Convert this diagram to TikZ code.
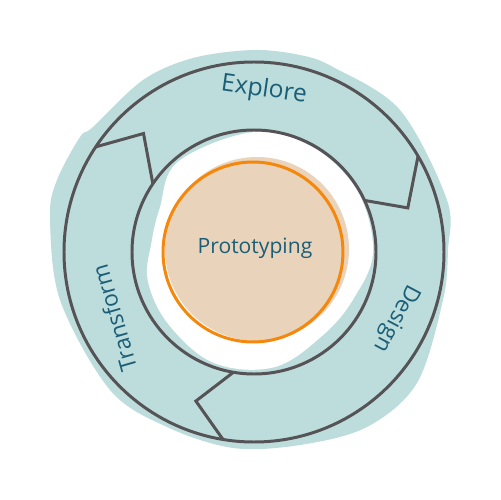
\documentclass[tikz,border=0pt]{standalone}
\usepackage{fontspec}
\setmainfont{Open Sans}
\usetikzlibrary{positioning,calc}
\definecolor{blobteal}{HTML}{BDDCDC}
\definecolor{ringgray}{HTML}{555356}
\definecolor{coreorange}{HTML}{F5870A}
\definecolor{corefill}{HTML}{E9D3BB}
\definecolor{inkteal}{HTML}{1A5E78}
\tikzset{
ring/.style={draw=ringgray,line width=1.7pt},
stage/.style={text=inkteal,inner sep=0pt,font=\fontsize{13}{15}\selectfont},
core/.style={circle,draw=coreorange,line width=1.7pt,inner sep=0pt,minimum size=3.6cm}
}
\begin{document}
\begin{tikzpicture}[x=0.02cm,y=0.02cm]
\useasboundingbox (-254,-248) rectangle (246,252);

% teal patch behind the cycle
\fill[blobteal] plot[smooth cycle,tension=0.55] coordinates {(-1,202) (46,197) (79,185) (146,142) (193,52) (194,2) (189,-48) (163,-131) (113,-175) (46,-193) (-21,-196) (-87,-175) (-144,-138) (-194,-48) (-204,35) (-197,72) (-174,115) (-161,125) (-111,172) (-61,194)};
\fill[white] plot[smooth cycle,tension=0.6] coordinates {(90:120) (60:120) (30:120) (0:119) (-25:110) (-50:108) (-80:117) (-110:118) (-140:112) (-165:110) (175:103) (155:104) (130:118)};

% core
\fill[corefill] (3,3) circle[radius=92];
\node[core] (core) at (-1,0) {};

% ring and chevrons
\draw[ring] (0,0) circle[radius=190];
\draw[ring] (0,0) circle[radius=122];
\coordinate (tlout) at (146.4:190);
\coordinate (tltip) at (133:162);
\coordinate (tlin) at (146:122);
\coordinate (rtout) at (30.3:190);
\coordinate (rttip) at (16:160);
\coordinate (rtin) at (25:122);
\coordinate (btout) at (260.6:190);
\coordinate (bttip) at (248.7:160);
\coordinate (btin) at (260.3:122);
\draw[ring] (tlout) -- (tltip) -- (tlin);
\draw[ring] (rtout) -- (rttip) -- (rtin);
\draw[ring] (btout) -- (bttip) -- (btin);

% labels
\node[stage,font=\fontsize{14}{16}\selectfont,rotate=-8] (explore) at (10,162) {Explore};
\node[stage,rotate=-118] (design) at (142,-66) {Design};
\node[stage,rotate=106] (transform) at (-140,-66) {Transform};
\node[stage,font=\fontsize{12}{14}\selectfont] (proto) at (1,4) {Prototyping};

\end{tikzpicture}
\end{document}
